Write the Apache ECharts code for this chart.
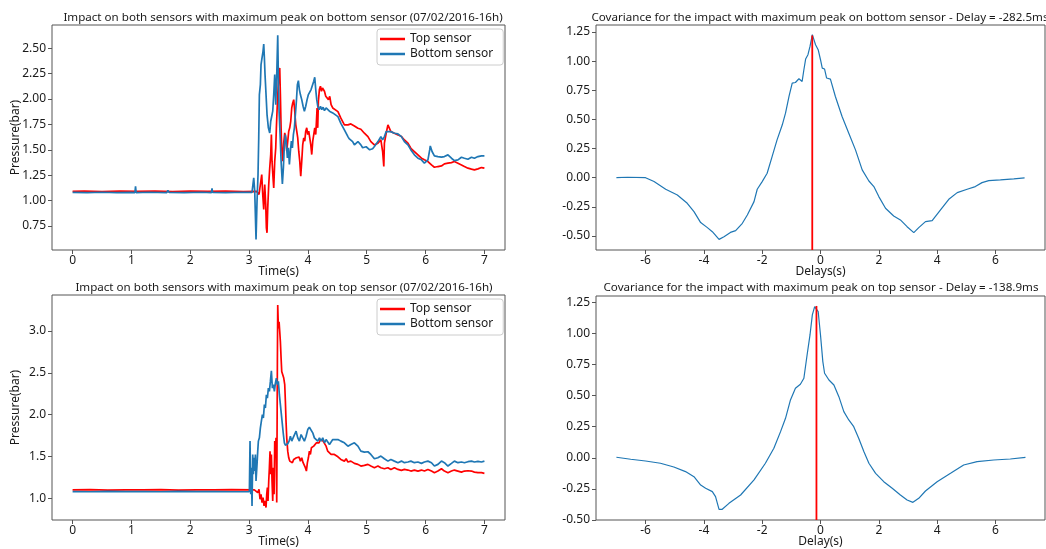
<!DOCTYPE html>
<html>
<head>
<meta charset="utf-8">
<script src="https://cdn.jsdelivr.net/npm/echarts@6/dist/echarts.min.js"></script>
<style>
html,body{margin:0;padding:0;background:#fff;}
#chart{width:1046px;height:549px;}
</style>
</head>
<body>
<div id="chart"></div>
<script>
// ---------- DATA ----------
const titles = [
  'Impact on both sensors with maximum peak on bottom sensor (07/02/2016-16h)',
  'Covariance for the impact with maximum peak on bottom sensor - Delay = -282.5ms',
  'Impact on both sensors with maximum peak on top sensor (07/02/2016-16h)',
  'Covariance for the impact with maximum peak on top sensor - Delay = -138.9ms'
];
const timeTicks = [0,1,2,3,4,5,6,7];
const delayTicks = [-6,-4,-2,0,2,4,6];
const pressTicks1 = [0.75,1.00,1.25,1.50,1.75,2.00,2.25,2.50];
const pressTicks2 = [1.0,1.5,2.0,2.5,3.0];
const covTicks = [-0.50,-0.25,0.00,0.25,0.50,0.75,1.00,1.25];

// impact 1 (max peak on bottom sensor): [time s, pressure bar]
const topSensor1 = [[0,1.09],[0.2,1.092],[0.21,1.10],[0.22,1.09],[0.5,1.088],[0.8,1.093],[1.1,1.09],[1.4,1.093],[1.7,1.088],[2.0,1.092],[2.3,1.09],[2.6,1.093],[2.9,1.088],[3.13,1.09],
[3.147,1.099],[3.169,1.060],[3.192,1.158],[3.215,1.256],[3.232,1.060],[3.249,0.912],[3.266,1.158],[3.283,0.961],[3.294,0.731],[3.305,0.682],[3.317,0.928],[3.334,1.158],[3.351,1.322],[3.368,1.453],[3.379,1.650],[3.390,1.388],[3.407,1.223],[3.419,1.125],[3.436,1.388],[3.453,1.519],[3.464,1.716],[3.475,1.880],[3.493,2.109],[3.510,2.273],[3.521,2.306],[3.532,2.044],[3.544,1.716],[3.555,1.519],[3.572,1.388],[3.589,1.568],[3.606,1.666],[3.623,1.617],[3.640,1.486],[3.657,1.585],[3.674,1.683],[3.691,1.716],[3.708,1.781],[3.725,1.912],[3.742,1.962],[3.759,1.994],[3.776,1.880],[3.793,1.748],[3.810,1.683],[3.827,1.617],[3.844,1.486],[3.861,1.388],[3.878,1.240],[3.895,1.388],[3.912,1.552],[3.929,1.617],[3.946,1.585],[3.963,1.683],[3.980,1.716],[3.997,1.650],[4.014,1.683],[4.031,1.617],[4.048,1.552],[4.065,1.453],[4.082,1.585],[4.099,1.650],[4.116,1.716],[4.133,1.650],[4.145,1.781],[4.156,1.912],[4.167,1.716],[4.178,1.978],[4.195,2.093],[4.213,2.126],[4.230,2.076],[4.247,2.109],[4.264,2.126],[4.281,2.076],[4.303,2.027],[4.326,2.044],[4.349,1.994],[4.371,2.027],[4.394,1.945],[4.422,1.912],
[4.45,1.893],[4.51,1.876],[4.56,1.811],[4.62,1.745],[4.68,1.745],[4.73,1.755],[4.79,1.735],[4.85,1.712],[4.90,1.702],[4.96,1.663],[5.02,1.630],[5.07,1.581],[5.13,1.548],[5.19,1.565],[5.24,1.597],[5.27,1.483],[5.29,1.335],[5.30,1.565],[5.33,1.663],[5.36,1.745],[5.39,1.729],[5.41,1.679],[5.47,1.663],[5.53,1.647],[5.59,1.630],[5.64,1.597],[5.70,1.565],[5.75,1.515],[5.81,1.483],[5.87,1.450],[5.93,1.417],[5.98,1.401],[6.04,1.384],[6.10,1.351],[6.15,1.328],[6.21,1.335],[6.27,1.341],[6.32,1.361],[6.38,1.368],[6.44,1.374],[6.49,1.384],[6.55,1.368],[6.61,1.351],[6.66,1.335],[6.72,1.319],[6.78,1.309],[6.83,1.302],[6.89,1.312],[6.95,1.325],[7.0,1.319]];

const bottomSensor1 = [[0,1.08],[0.25,1.078],[0.5,1.082],[0.75,1.078],[1.0,1.08],[1.06,1.078],[1.07,1.14],[1.08,1.079],[1.3,1.082],[1.6,1.078],[1.62,1.10],[1.64,1.08],[1.9,1.078],[2.2,1.082],[2.36,1.079],[2.37,1.12],[2.38,1.08],[2.6,1.078],[2.9,1.082],[3.05,1.08],
[3.079,1.223],[3.096,1.092],[3.118,0.616],[3.135,0.994],[3.152,1.256],[3.164,1.617],[3.175,2.044],[3.192,2.142],[3.203,2.339],[3.220,2.405],[3.237,2.470],[3.249,2.542],[3.260,2.405],[3.271,2.240],[3.288,2.044],[3.305,1.847],[3.328,1.716],[3.351,1.666],[3.368,1.781],[3.385,1.830],[3.402,1.880],[3.419,2.044],[3.436,2.240],[3.453,1.945],[3.470,2.240],[3.487,2.628],[3.498,2.208],[3.510,1.880],[3.527,1.650],[3.544,1.388],[3.566,1.164],[3.583,1.322],[3.600,1.552],[3.617,1.650],[3.634,1.552],[3.651,1.420],[3.668,1.519],[3.685,1.355],[3.702,1.486],[3.719,1.585],[3.736,1.519],[3.753,1.650],[3.770,1.716],[3.787,1.847],[3.804,1.978],[3.821,2.142],[3.838,2.181],[3.855,2.093],[3.872,2.044],[3.895,1.994],[3.918,1.929],[3.940,1.880],[3.963,1.929],[3.986,1.994],[4.008,2.044],[4.031,2.027],[4.054,2.093],[4.076,2.109],[4.099,2.175],[4.116,2.214],[4.133,2.093],[4.150,1.994],[4.167,1.929],[4.190,1.896],[4.213,1.929],[4.235,1.896],[4.258,1.919],[4.281,1.886],[4.309,1.912],[4.337,1.896],[4.366,1.880],[4.394,1.886],[4.422,1.863],
[4.45,1.860],[4.51,1.827],[4.56,1.761],[4.62,1.696],[4.65,1.680],[4.68,1.630],[4.70,1.610],[4.73,1.597],[4.76,1.580],[4.79,1.548],[4.82,1.560],[4.85,1.581],[4.87,1.570],[4.90,1.548],[4.93,1.520],[4.96,1.515],[4.99,1.530],[5.02,1.532],[5.05,1.500],[5.07,1.499],[5.10,1.510],[5.13,1.532],[5.16,1.550],[5.19,1.581],[5.22,1.580],[5.24,1.630],[5.27,1.597],[5.30,1.630],[5.33,1.679],[5.36,1.696],[5.41,1.679],[5.47,1.663],[5.53,1.656],[5.59,1.630],[5.64,1.581],[5.70,1.548],[5.75,1.499],[5.81,1.450],[5.87,1.417],[5.93,1.401],[5.98,1.368],[6.01,1.351],[6.04,1.401],[6.07,1.499],[6.08,1.538],[6.11,1.483],[6.15,1.440],[6.21,1.433],[6.27,1.427],[6.32,1.433],[6.38,1.450],[6.44,1.417],[6.49,1.394],[6.55,1.401],[6.61,1.427],[6.66,1.417],[6.72,1.407],[6.78,1.427],[6.83,1.417],[6.89,1.433],[6.95,1.440],[7.0,1.440]];

// impact 2 (max peak on top sensor)
const topSensor2 = [[0,1.10],[0.3,1.102],[0.6,1.098],[0.9,1.101],[1.2,1.099],[1.5,1.102],[1.8,1.098],[2.1,1.101],[2.4,1.099],[2.7,1.102],[3.09,1.10],
[3.118,1.087],[3.147,1.067],[3.169,1.107],[3.186,0.988],[3.203,1.048],[3.220,0.948],[3.237,1.008],[3.254,0.909],[3.271,0.968],[3.288,0.889],[3.300,1.048],[3.311,1.127],[3.322,0.968],[3.334,1.206],[3.345,1.365],[3.356,1.563],[3.368,1.286],[3.379,1.524],[3.390,1.206],[3.402,0.968],[3.413,1.365],[3.425,1.048],[3.436,1.683],[3.447,1.524],[3.458,1.722],[3.470,0.948],[3.476,1.841],[3.481,2.635],[3.487,3.310],[3.498,3.032],[3.510,3.111],[3.521,2.992],[3.532,2.873],[3.544,2.675],[3.555,2.516],[3.572,2.476],[3.589,2.437],[3.606,2.357],[3.617,2.159],[3.628,1.921],[3.640,1.722],[3.657,1.563],[3.674,1.484],[3.691,1.444],[3.714,1.464],[3.736,1.425],[3.759,1.464],[3.782,1.444],[3.804,1.484],[3.827,1.464],[3.850,1.492],[3.872,1.444],[3.895,1.484],[3.918,1.425],[3.940,1.444],[3.957,1.365],[3.974,1.325],[3.991,1.425],[4.008,1.484],[4.025,1.563],[4.042,1.524],[4.059,1.603],[4.076,1.583],[4.099,1.623],[4.122,1.603],[4.145,1.663],[4.167,1.683],[4.190,1.663],[4.213,1.702],[4.235,1.690],[4.258,1.683],[4.281,1.663],[4.309,1.623],[4.337,1.563],[4.366,1.544],[4.394,1.524],[4.422,1.516],
[4.45,1.524],[4.51,1.496],[4.56,1.464],[4.62,1.444],[4.65,1.472],[4.68,1.433],[4.73,1.444],[4.79,1.417],[4.85,1.405],[4.90,1.385],[4.96,1.393],[5.02,1.405],[5.07,1.385],[5.13,1.365],[5.19,1.385],[5.24,1.365],[5.30,1.353],[5.36,1.365],[5.41,1.345],[5.47,1.365],[5.53,1.345],[5.59,1.333],[5.64,1.345],[5.70,1.337],[5.75,1.325],[5.81,1.337],[5.87,1.325],[5.93,1.337],[5.98,1.325],[6.04,1.345],[6.10,1.325],[6.15,1.306],[6.21,1.325],[6.27,1.353],[6.32,1.325],[6.38,1.306],[6.44,1.325],[6.49,1.337],[6.55,1.325],[6.61,1.313],[6.66,1.325],[6.72,1.329],[6.78,1.325],[6.83,1.313],[6.89,1.306],[6.95,1.306],[7.0,1.298]];

const bottomSensor2 = [[0,1.08],[0.3,1.078],[0.6,1.082],[0.9,1.079],[1.2,1.081],[1.5,1.078],[1.8,1.082],[2.1,1.079],[2.4,1.081],[2.7,1.078],[3.005,1.08],
[3.016,1.683],[3.028,1.048],[3.039,1.365],[3.050,0.909],[3.062,1.524],[3.073,1.286],[3.084,1.484],[3.096,1.325],[3.107,1.524],[3.118,1.206],[3.135,1.405],[3.147,1.563],[3.158,1.683],[3.175,1.722],[3.192,1.841],[3.209,1.921],[3.226,2.000],[3.243,1.960],[3.260,2.119],[3.277,2.079],[3.294,2.238],[3.311,2.198],[3.328,2.317],[3.345,2.278],[3.362,2.397],[3.379,2.524],[3.396,2.317],[3.413,2.357],[3.430,2.278],[3.447,2.377],[3.464,2.437],[3.481,2.357],[3.498,2.397],[3.515,2.238],[3.532,2.119],[3.549,2.000],[3.566,1.881],[3.583,1.762],[3.600,1.663],[3.617,1.635],[3.634,1.635],[3.657,1.651],[3.680,1.683],[3.702,1.742],[3.725,1.683],[3.748,1.722],[3.770,1.742],[3.799,1.802],[3.827,1.722],[3.855,1.683],[3.884,1.762],[3.912,1.722],[3.940,1.683],[3.969,1.742],[3.997,1.821],[4.025,1.849],[4.054,1.841],[4.082,1.782],[4.110,1.722],[4.139,1.742],[4.167,1.683],[4.196,1.722],[4.224,1.683],[4.252,1.722],[4.281,1.663],[4.309,1.702],[4.337,1.683],[4.366,1.643],[4.394,1.663],[4.422,1.702],
[4.45,1.683],[4.51,1.702],[4.56,1.683],[4.62,1.663],[4.68,1.623],[4.73,1.643],[4.79,1.663],[4.85,1.623],[4.90,1.563],[4.96,1.552],[5.02,1.556],[5.07,1.524],[5.13,1.472],[5.19,1.484],[5.24,1.504],[5.30,1.472],[5.36,1.444],[5.41,1.464],[5.47,1.444],[5.53,1.425],[5.59,1.444],[5.64,1.425],[5.70,1.433],[5.75,1.444],[5.81,1.425],[5.87,1.433],[5.93,1.417],[5.98,1.433],[6.04,1.444],[6.10,1.425],[6.15,1.385],[6.21,1.405],[6.27,1.444],[6.32,1.425],[6.38,1.385],[6.44,1.417],[6.49,1.444],[6.55,1.425],[6.61,1.433],[6.66,1.425],[6.72,1.437],[6.78,1.444],[6.83,1.433],[6.89,1.441],[6.95,1.433],[7.0,1.444]];

// covariance curves: [delay s, covariance]
const covariance1 = [[-7.00,0.000],[-6.62,0.004],[-6.00,0.000],[-5.71,-0.033],[-5.31,-0.099],[-4.91,-0.148],[-4.57,-0.219],[-4.34,-0.291],[-4.11,-0.385],[-3.88,-0.428],[-3.71,-0.463],[-3.48,-0.529],[-3.31,-0.506],[-3.09,-0.469],[-2.91,-0.454],[-2.68,-0.391],[-2.51,-0.320],[-2.28,-0.205],[-2.17,-0.099],[-2.00,-0.033],[-1.83,0.038],[-1.66,0.181],[-1.49,0.325],[-1.31,0.454],[-1.20,0.554],[-1.08,0.697],[-0.97,0.812],[-0.86,0.817],[-0.74,0.849],[-0.63,0.826],[-0.57,0.926],[-0.51,1.018],[-0.43,1.055],[-0.36,1.126],[-0.28,1.227],[-0.17,1.141],[-0.08,1.098],[0.00,1.012],[0.06,0.940],[0.14,0.932],[0.21,0.855],[0.34,0.846],[0.51,0.697],[0.74,0.525],[0.97,0.382],[1.20,0.239],[1.43,0.067],[1.66,-0.028],[1.83,-0.076],[2.00,-0.162],[2.23,-0.262],[2.51,-0.328],[2.74,-0.362],[2.97,-0.420],[3.20,-0.471],[3.37,-0.428],[3.60,-0.377],[3.83,-0.368],[4.11,-0.277],[4.40,-0.185],[4.69,-0.128],[5.03,-0.099],[5.31,-0.076],[5.54,-0.042],[5.77,-0.025],[6.17,-0.019],[6.63,-0.010],[7.00,-0.002]];
const covariance2 = [[-7.00,0.004],[-6.51,-0.012],[-6.00,-0.026],[-5.49,-0.044],[-5.03,-0.074],[-4.63,-0.111],[-4.34,-0.152],[-4.11,-0.219],[-3.94,-0.245],[-3.71,-0.272],[-3.60,-0.312],[-3.48,-0.414],[-3.37,-0.414],[-3.14,-0.366],[-2.74,-0.299],[-2.28,-0.178],[-1.89,-0.044],[-1.60,0.076],[-1.37,0.210],[-1.20,0.317],[-1.03,0.465],[-0.86,0.559],[-0.69,0.591],[-0.57,0.639],[-0.46,0.826],[-0.36,0.987],[-0.28,1.148],[-0.20,1.215],[-0.14,1.223],[-0.08,1.175],[0.00,0.987],[0.08,0.773],[0.14,0.679],[0.29,0.625],[0.46,0.585],[0.63,0.491],[0.80,0.371],[0.97,0.304],[1.14,0.250],[1.31,0.157],[1.49,0.049],[1.66,-0.044],[1.89,-0.125],[2.17,-0.192],[2.46,-0.245],[2.74,-0.299],[2.97,-0.339],[3.17,-0.358],[3.37,-0.326],[3.60,-0.267],[4.00,-0.192],[4.46,-0.125],[4.91,-0.058],[5.37,-0.031],[5.94,-0.018],[6.51,-0.010],[7.03,0.004]];

// detected delays (s) and covariance peak heights
const delay1 = -0.2825, covPeak1 = 1.22;
const delay2 = -0.1389, covPeak2 = 1.22;

// axis ranges
const timeRange = [-0.35, 7.35];
const delayRange = [-7.7, 7.7];
const pressRange1 = [0.513, 2.729];
const pressRange2 = [0.74, 3.43];
const covRange1 = [-0.62, 1.31];
const covRange2 = [-0.50, 1.30];

// ---------- CHART ----------
const FONT = 'Noto Sans';
const TXT = '#1a1a1a';
const AX = '#555';
const RED = '#ff0000';
const BLUE = '#1f77b4';

function xAxis(gi, range, ticks, name, dec) {
  return {
    type: 'value', gridIndex: gi, min: range[0], max: range[1], position: 'bottom',
    name: name, nameLocation: 'middle', nameGap: 16, nameMoveOverlap: false,
    nameTextStyle: {fontFamily: FONT, fontSize: 12, color: TXT},
    axisLine: {show: false, onZero: false},
    axisTick: {show: true, inside: false, length: 4, customValues: ticks, lineStyle: {color: AX}},
    axisLabel: {customValues: ticks, margin: 5, fontFamily: FONT, fontSize: 12, color: TXT,
      formatter: v => Number(v).toFixed(dec)},
    splitLine: {show: false}
  };
}
function yAxis(gi, range, ticks, name, dec) {
  return {
    type: 'value', gridIndex: gi, min: range[0], max: range[1], position: 'left',
    name: name, nameLocation: 'middle', nameGap: 30, nameRotate: 90, nameMoveOverlap: false,
    nameTextStyle: {fontFamily: FONT, fontSize: 12, color: TXT},
    axisLine: {show: false, onZero: false},
    axisTick: {show: true, inside: false, length: 4, customValues: ticks, lineStyle: {color: AX}},
    axisLabel: {customValues: ticks, margin: 6, fontFamily: FONT, fontSize: 12, color: TXT,
      formatter: v => Number(v).toFixed(dec)},
    splitLine: {show: false}
  };
}
function lineSeries(name, gi, data, color, width) {
  return {
    type: 'line', name: name, xAxisIndex: gi, yAxisIndex: gi, data: data,
    symbol: 'none', showSymbol: false, color: color, clip: true,
    lineStyle: {color: color, width: width}, emphasis: {disabled: true}
  };
}
function gridBox(left, top, width, height) {
  return {left: left, top: top, width: width, height: height, show: true,
    borderColor: AX, borderWidth: 1, backgroundColor: 'transparent', containLabel: false};
}
function title(text, cx, top) {
  return {text: text, left: cx, top: top, textAlign: 'center', padding: 0,
    textStyle: {fontFamily: FONT, fontSize: 11.6, fontWeight: 'normal', color: TXT}};
}
function legend(top) {
  return {
    data: ['Top sensor', 'Bottom sensor'], orient: 'vertical', left: 377, top: top,
    icon: 'rect', itemWidth: 25, itemHeight: 2.5, itemGap: 3,
    padding: [4, 10, 5, 3], backgroundColor: '#fff', borderColor: '#ccc', borderWidth: 1, borderRadius: 3,
    textStyle: {fontFamily: FONT, fontSize: 12, color: TXT}
  };
}

const chart = echarts.init(document.getElementById('chart'), null, {renderer: 'canvas'});
chart.setOption({
  animation: false,
  backgroundColor: '#fff',
  title: [
    title(titles[0], 283, 12),
    title(titles[1], 820, 12),
    title(titles[2], 284, 282),
    title(titles[3], 821, 282)
  ],
  legend: [legend(29), legend(299)],
  grid: [
    gridBox(52, 25, 453, 225),
    gridBox(596, 25, 449, 225),
    gridBox(52, 295, 453, 225),
    gridBox(596, 296, 449, 224)
  ],
  xAxis: [
    xAxis(0, timeRange, timeTicks, 'Time(s)', 0),
    xAxis(1, delayRange, delayTicks, 'Delays(s)', 0),
    xAxis(2, timeRange, timeTicks, 'Time(s)', 0),
    xAxis(3, delayRange, delayTicks, 'Delay(s)', 0)
  ],
  yAxis: [
    yAxis(0, pressRange1, pressTicks1, 'Pressure(bar)', 2),
    yAxis(1, covRange1, covTicks, '', 2),
    yAxis(2, pressRange2, pressTicks2, 'Pressure(bar)', 1),
    yAxis(3, covRange2, covTicks, '', 2)
  ],
  series: [
    lineSeries('Top sensor', 0, topSensor1, RED, 1.7),
    lineSeries('Bottom sensor', 0, bottomSensor1, BLUE, 1.7),
    lineSeries('Covariance 1', 1, covariance1, BLUE, 1.2),
    lineSeries('Delay 1', 1, [[delay1, covRange1[0]], [delay1, covPeak1]], RED, 1.8),
    lineSeries('Top sensor', 2, topSensor2, RED, 1.7),
    lineSeries('Bottom sensor', 2, bottomSensor2, BLUE, 1.7),
    lineSeries('Covariance 2', 3, covariance2, BLUE, 1.2),
    lineSeries('Delay 2', 3, [[delay2, covRange2[0]], [delay2, covPeak2]], RED, 1.8)
  ]
});
</script>
</body>
</html>
